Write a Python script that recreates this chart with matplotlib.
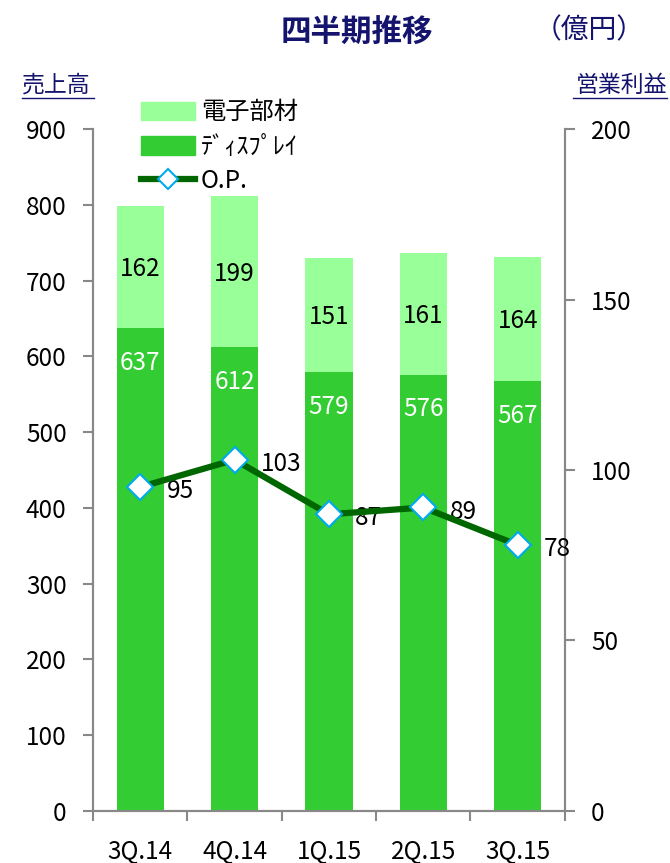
import matplotlib
matplotlib.use("Agg")
import matplotlib.pyplot as plt
from matplotlib.lines import Line2D
from matplotlib.patches import Patch
import numpy as np

plt.rcParams['font.family'] = ['Noto Sans CJK JP', 'DejaVu Sans']

# データ
quarters = ["3Q.14", "4Q.14", "1Q.15", "2Q.15", "3Q.15"]
display = [637, 612, 579, 576, 567]
denshi = [162, 199, 151, 161, 164]
op = [95, 103, 87, 89, 78]

NAVY = "#14146e"
GRAY = "#888888"
C_DISP = "#33cc33"
C_DENSHI = "#99ff99"
C_OP = "#006600"
FS = 17.5

fig = plt.figure(figsize=(6.7, 8.63), dpi=100)
ax = fig.add_axes([0.139, 0.0603, 0.704, 0.7902])
ax2 = ax.twinx()

x = np.arange(len(quarters))
ax.bar(x, display, width=0.5, color=C_DISP, zorder=2)
ax.bar(x, denshi, width=0.5, bottom=display, color=C_DENSHI, zorder=2)

# ラベル
for xi, d, e in zip(x, display, denshi):
    ax.text(xi, d - 46, str(d), ha="center", va="center", color="white", fontsize=FS)
    ax.text(xi, d + e / 2 - 3, str(e), ha="center", va="center", color="black", fontsize=FS)

ax2.plot(x, op, color=C_OP, lw=4.5, marker="D", markersize=13,
         markerfacecolor="white", markeredgecolor="#00aaee", markeredgewidth=1.5, zorder=5)
for xi, v in zip(x, op):
    ax2.annotate(str(v), (xi, v), xytext=(19, -3), textcoords="offset points",
                 ha="left", va="center", fontsize=FS, color="black")

ax.set_xlim(-0.5, len(quarters) - 0.5)
ax.set_ylim(0, 900)
ax2.set_ylim(0, 200)
ax.set_yticks(range(0, 901, 100))
ax2.set_yticks(range(0, 201, 50))
ax.set_xticks(x)
ax.set_xticklabels(quarters)
ax.set_xticks(np.arange(-0.5, len(quarters)), minor=True)
ax.tick_params(axis="x", which="major", length=0, pad=20, labelsize=FS)
ax.tick_params(axis="x", which="minor", length=7, color=GRAY, width=1.5)
ax.tick_params(axis="y", length=7, color=GRAY, width=1.5, labelsize=FS, pad=12)
ax2.tick_params(axis="y", length=7, color=GRAY, width=1.5, labelsize=FS, pad=12)

for a in (ax, ax2):
    a.spines["top"].set_visible(False)
    for s in ("left", "right", "bottom"):
        a.spines[s].set_color(GRAY)
        a.spines[s].set_linewidth(1.5)

# タイトルと軸ラベル
fig.text(0.533, 0.963, "四半期推移", ha="center", va="center", fontsize=22,
         fontweight="bold", color=NAVY)
fig.text(0.879, 0.965, "（億円）", ha="center", va="center", fontsize=20, color=NAVY)
fig.text(0.033, 0.901, "売上高", ha="left", va="center", fontsize=16.5, color=NAVY)
fig.text(0.996, 0.901, "営業利益", ha="right", va="center", fontsize=16.5, color=NAVY)
fig.add_artist(Line2D([0.033, 0.141], [0.887, 0.887], transform=fig.transFigure, color=NAVY, lw=1))
fig.add_artist(Line2D([0.855, 0.996], [0.887, 0.887], transform=fig.transFigure, color=NAVY, lw=1))

handles = [Patch(color=C_DENSHI), Patch(color=C_DISP),
           Line2D([], [], color=C_OP, lw=4.5, marker="D", markersize=10,
                  markerfacecolor="white", markeredgecolor="#00aaee", markeredgewidth=1.5)]
fig.legend(handles, ["電子部材", "ﾃﾞｨｽﾌﾟﾚｲ", "O.P."], loc="upper left",
           bbox_to_anchor=(0.193, 0.899), frameon=False, fontsize=FS,
           handlelength=2.2, handleheight=0.8, handletextpad=0.25, labelspacing=0.35,
           borderpad=0)

fig.savefig("out.png", dpi=100)
